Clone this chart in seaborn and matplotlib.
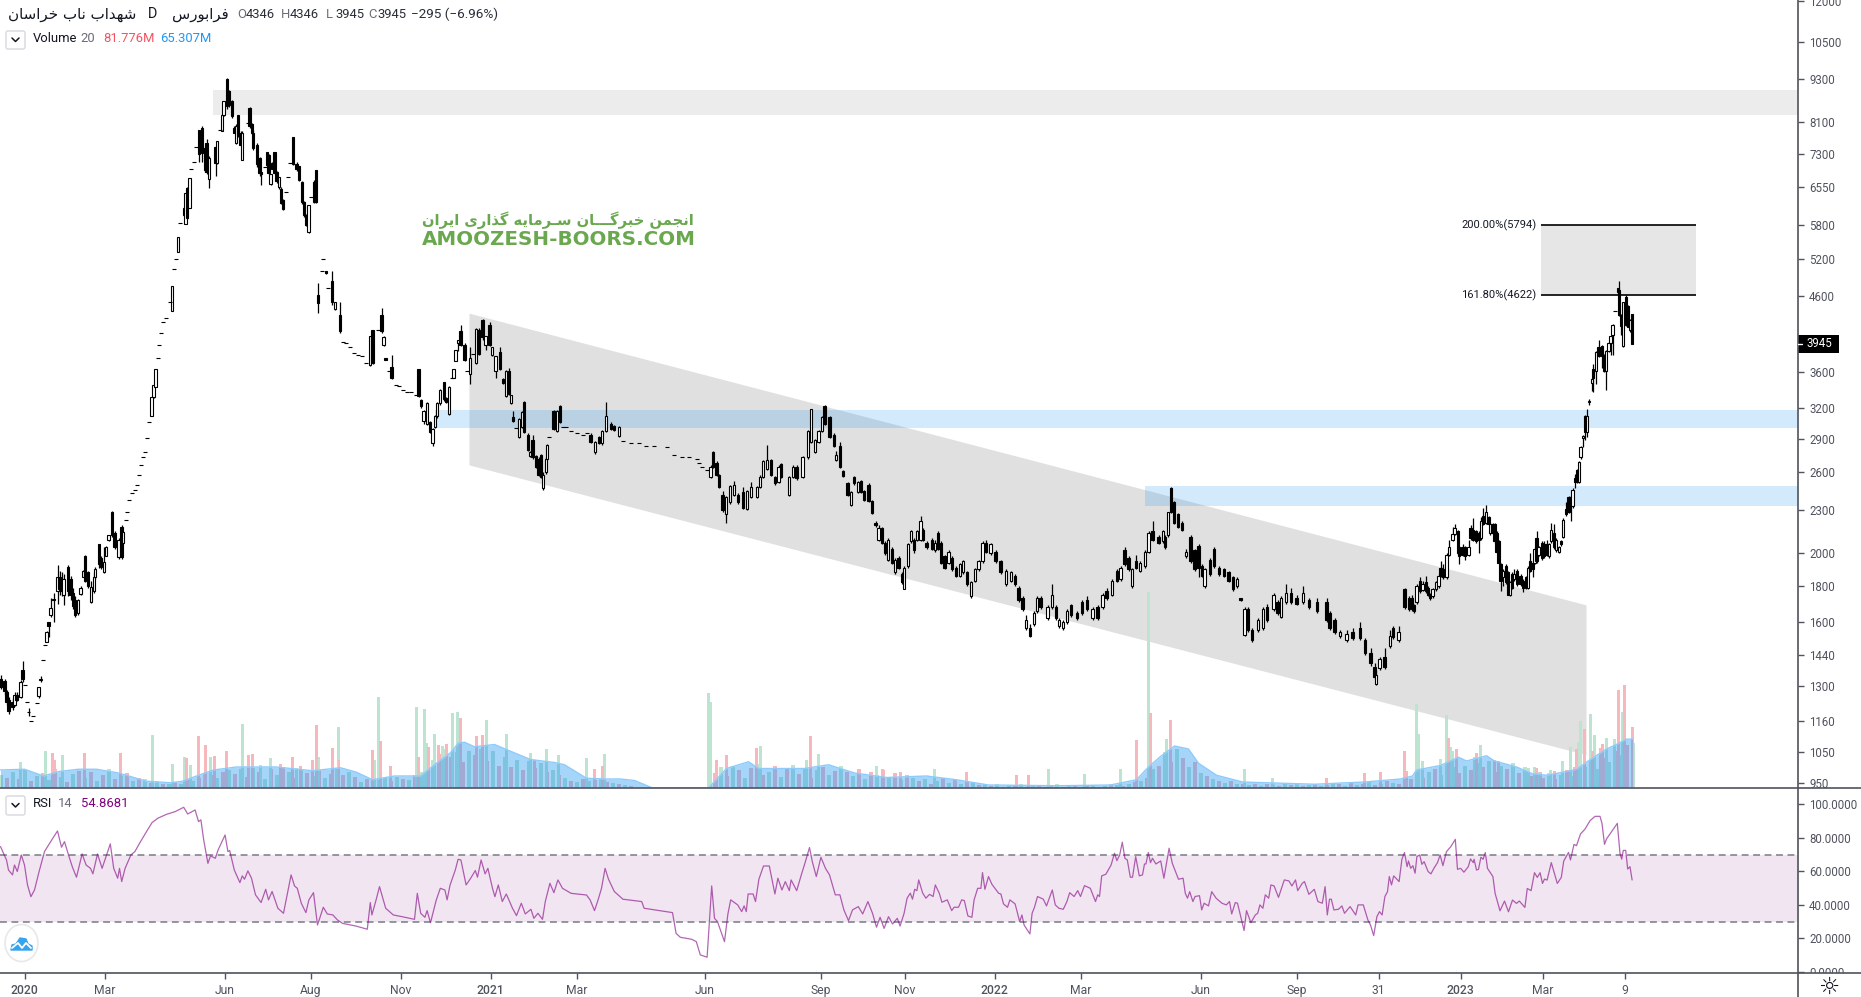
import matplotlib
matplotlib.use("Agg")
import matplotlib.pyplot as plt
from matplotlib.patches import Rectangle, Ellipse, FancyBboxPatch, Polygon
from matplotlib.ticker import FixedLocator, FixedFormatter, NullLocator
from matplotlib.transforms import Bbox
import seaborn as sns

# ---------------- candles: (bar, open, high, low, close) ----------------
candles_early = [(-12,1330,1350,1290,1295),(-10,1322,1330,1265,1280),(-9,1275,1285,1225,1235),(-8,1245,1255,1190,1200),
(-6,1235,1250,1205,1215),(-5,1225,1275,1220,1265),(-4,1265,1275,1240,1245),(-2,1255,1325,1250,1318),(-1,1370,1410,1318,1330),
(2,1195,1210,1180,1195),(7,1260,1298,1250,1298),(8,1325,1345,1318,1330),(11,1500,1555,1500,1550),(12,1600,1600,1525,1580),
(13,1640,1730,1630,1675),(14.5,1725,1760,1600,1720),(16.5,1770,1925,1700,1850),(17.5,1850,1890,1750,1780),(18.5,1840,1880,1740,1770),
(19.5,1750,1870,1690,1840),(21.75,1915,1925,1740,1770),(23,1840,1860,1720,1750),(24.3,1760,1790,1670,1685),(25.3,1720,1740,1630,1640),
(26.7,1650,1725,1640,1720),(28,1755,1800,1750,1790),(29.3,1855,1895,1850,1890),(30.3,1980,1990,1820,1830),(31.7,1880,1890,1790,1800),
(33.4,1710,1830,1705,1795),(34.6,1770,1880,1760,1850),(35.4,1850,1915,1840,1900),(37.2,2060,2060,1905,1930),(38.4,1970,1985,1900,1915),
(39.8,1880,2040,1875,1945),(40.7,1985,2050,1980,2040),(42,2090,2125,2085,2125),(43.9,2285,2295,2110,2125),(45,2140,2150,2030,2040),
(47,1975,2100,1965,2090),(48.5,2180,2190,1965,1975),(49.4,2070,2150,2065,2145)]
candles_peak = [(63.5,3120,3320,3120,3320),(64.5,3320,3450,3310,3450),(65.5,3430,3630,3430,3630),(73.8,4390,4750,4390,4750),
(76.9,5310,5580,5310,5580),(79.6,6130,6140,5960,5980),(80.5,5820,6440,5820,6440),(81.1,6540,6560,5910,5930),(82.5,6120,6760,6120,6760),
(87.3,7880,7900,7100,7290),(88.8,7950,7980,7100,7330),(90.1,7430,7500,6880,6920),(91,7550,7650,6850,6880),(92.2,6740,7250,6530,7210),
(95.5,7470,7480,6790,7090),(96.2,7090,7620,7070,7620),(98.9,7860,8270,7860,8270),(99.5,8270,8670,8250,8670),(101.4,9300,9350,8450,8520),
(102.2,8960,8990,8500,8540),(103.9,8670,8700,8200,8250),(104.9,7950,8000,7800,7820),(105.8,7550,8030,7530,8000),(106.8,8270,8280,7700,7750),
(108,7800,7850,7500,7520),(108.9,7160,7850,7160,7800),(112.5,8480,8490,7950,7980),(113.7,8030,8080,7780,7800),(114.4,7800,7900,7400,7430),
(116.3,7520,7550,7000,7060),(117.5,7210,7230,6800,6860),(118.4,6880,6880,6600,6830),(121.1,7340,7350,7000,7050),(122,7280,7300,6830,6860),
(123,6620,6850,6610,6830),(123.6,7090,7100,6940,6960),(125,7340,7350,6840,6860),(126,6880,6900,6650,6680),(127.4,6550,6780,6520,6780),
(128.4,6510,6550,6200,6230),(129.4,6280,6300,6080,6100),(134.1,7700,7700,7040,7060),(136,7060,7100,6900,6950),(137.4,7010,7020,6680,6700),
(138.7,6660,6680,6200,6240),(139.9,6240,6260,5950,5980),(140.8,5980,6000,5770,5790),(142,5670,6190,5650,6180),(144.7,6660,6700,6220,6240),
(145.6,6920,6930,6220,6240),(146.8,4620,4800,4360,4500),(150.8,5000,5000,4950,4970),(153.8,4830,4990,4480,4520),(155.2,4410,4520,4400,4520),
(157.8,4330,4510,4090,4110)]
candles_late2020 = [(172.6,3680,4040,3670,4040),(174,4120,4130,3700,3710),(178.5,4330,4430,4090,4110),(179.5,3930,4040,3920,4030),
(180.5,3770,3770,3740,3745),(183.5,3660,3810,3520,3530),(197,3640,3640,3320,3330),(198.3,3290,3300,3200,3220),(199.5,3070,3180,3040,3170),
(201.3,3040,3270,3030,3260),(202.9,3060,3070,2950,2960),(204,2860,3000,2830,2990),(205.2,3010,3130,3000,3120),(206.2,3120,3270,3100,3260),
(207.6,3260,3410,3240,3400),(209.6,3480,3490,3280,3300),(210.8,3310,3320,3260,3270),(212.3,3140,3440,3130,3430),(214.5,3530,3640,3530,3640),
(215.5,3730,3860,3730,3860),(216.7,3960,3990,3850,3990),(218,4110,4190,3920,3930),(220,3930,3950,3730,3740),(222.6,3580,3900,3460,3770),
(225.6,3710,4150,3700,4140),(227,4130,4150,3800,3820),(229,4260,4270,4000,4030),(230.5,3930,4040,3870,4040)]
candles_2021a = [(232.5,4190,4230,3920,3930),(233.9,3800,3900,3790,3900),(235.5,3610,3790,3530,3790),(237.8,3840,3900,3620,3630),
(239.2,3520,3530,3460,3470),(240.8,3330,3620,3320,3610),(242.2,3610,3650,3340,3350),(243.4,3260,3340,3250,3340),(244.4,3110,3170,3060,3070),
(247.3,2920,3100,2910,3090),(248.7,3010,3170,3000,3160),(249.9,3270,3280,2950,2960),(251.7,2940,2950,2790,2800),(252.7,2740,2790,2730,2780),
(254,2890,2940,2720,2730),(255.6,2740,2750,2640,2650),(257,2720,2730,2570,2580),(258.2,2750,2760,2550,2560),(259.4,2470,2600,2460,2580),
(260.6,2600,2730,2590,2720),(261.4,2720,2850,2720,2840),(264.5,3170,3180,2980,2990),(266.1,2970,3180,2960,3170),(267.9,3220,3230,3050,3060),
(283,2940,2950,2860,2870),(285.3,2780,2880,2760,2870),(287.3,2920,2930,2850,2860),(288.7,2860,2980,2840,2970),(290.8,2970,3270,2960,3120),
(293.2,3040,3060,2980,2990),(294.8,3020,3030,2970,2980),(297.2,2930,3020,2920,3010)]
candles_2021b = [(343,2560,2660,2550,2650),(344.4,2780,2790,2640,2650),(346,2680,2700,2570,2580),(347.4,2580,2590,2470,2480),(349,2420,2450,2290,2300),
(350.8,2270,2410,2210,2400),(352.8,2360,2500,2350,2490),(354.8,2420,2530,2410,2500),(356.6,2420,2430,2350,2360),(359.2,2440,2480,2310,2320),
(361.2,2310,2460,2300,2450),(363.3,2400,2520,2390,2480),(366.3,2400,2490,2390,2480),(367.6,2480,2580,2470,2560),(369.4,2560,2710,2550,2700),
(371.4,2630,2840,2620,2710),(373.2,2710,2720,2570,2580),(375.3,2560,2570,2500,2510),(377,2520,2660,2510,2650),(378.3,2670,2680,2550,2560),
(382.1,2420,2570,2410,2560),(384.2,2560,2660,2550,2650),(386,2650,2660,2540,2550),(389,2560,2740,2550,2730),(391.6,2730,2980,2720,2970),
(393.4,2870,3190,2860,3190),(395.4,2780,2900,2770,2890),(397,2870,2980,2860,2970),(398.7,2970,3120,2960,3110),(400,3220,3240,3030,3040),
(402.5,3110,3120,2910,2920),(404.6,2940,2950,2820,2830),(405.9,2710,2790,2700,2750),(407.7,2830,2870,2640,2650),(409.4,2610,2620,2560,2570),
(411.5,2510,2520,2410,2420),(413.3,2340,2450,2330,2440),(414.8,2560,2570,2500,2510),(416.6,2440,2530,2430,2520),(418.1,2530,2540,2430,2440),
(419.9,2450,2460,2370,2380),(422,2500,2510,2360,2370),(423.7,2370,2380,2270,2280),(425.5,2210,2220,2180,2190),(427,2090,2190,2080,2170),
(428.6,2170,2180,2060,2070),(430.1,2070,2080,1990,2000),(431.9,1960,2100,1950,2090),(433.7,2030,2040,1930,1940),(435.2,1880,1970,1870,1960),
(437,1970,1980,1900,1910),(438.8,1870,1880,1810,1820),(439.8,1780,1920,1780,1910),(441.6,1920,2070,1910,2060),(443.4,2080,2160,2070,2150),
(444.6,2090,2100,2000,2020),(446.2,2090,2160,2080,2150),(448,2090,2260,2080,2220),(449.2,2160,2170,2080,2090),(451,2070,2080,2030,2040),
(453.6,2090,2100,2020,2030),(455.4,2020,2090,2010,2070),(456.6,2140,2150,2020,2030),(458.2,2070,2080,1930,1940),(460,1980,1990,1900,1910),
(462,1940,2020,1930,2010),(463.8,1970,1980,1890,1900),(465.6,1910,1920,1850,1860),(467.6,1860,1940,1850,1930),(469.4,1880,1960,1870,1950),
(471.4,1880,1890,1800,1810),(473.2,1740,1830,1730,1820),(475.2,1830,1910,1820,1900),(477,1900,1960,1890,1950),(479,1950,2080,1940,2070),
(480.9,2070,2090,2000,2010),(483,2000,2070,1990,2060)]
candles_2022a = [(485.5,2010,2020,1940,1950),(488,1950,1960,1870,1880),(490.6,1810,1900,1800,1890),(493.1,1830,1890,1820,1880),(495.1,1860,1870,1800,1810),
(497,1790,1800,1710,1720),(499,1730,1740,1660,1670),(500.8,1570,1640,1560,1610),(502.8,1570,1590,1525,1530),(504.6,1590,1660,1580,1650),
(506.4,1660,1740,1650,1730),(508,1730,1740,1670,1680),(511.5,1620,1690,1610,1680),(513.8,1680,1810,1670,1750),(515.6,1680,1690,1610,1620),
(517.4,1580,1620,1570,1610),(519.4,1570,1610,1560,1600),(521.2,1600,1670,1590,1660),(523.2,1690,1700,1630,1640),(526.3,1650,1660,1610,1620),
(528.8,1710,1720,1640,1650),(531.4,1720,1740,1660,1670),(534,1620,1680,1610,1670),(536.5,1680,1690,1610,1620),(539,1680,1760,1670,1750),
(541,1770,1790,1720,1730),(543.6,1750,1840,1740,1830),(546.2,1890,1900,1820,1830),(548,1840,1920,1830,1910),(550,2020,2040,1920,1930),
(552,1970,1980,1890,1900),(553.8,1800,1910,1790,1900),(555.6,1950,1990,1900,1910),(557.7,1890,1950,1880,1940),(560.2,1920,2020,1910,2010),
(562,2010,2150,2000,2140),(564,2150,2220,2080,2090),(567,2110,2120,2060,2070),(569.1,2080,2160,2070,2150),(570.4,2110,2120,2030,2040),
(571.7,2120,2290,2110,2290),(573.2,2470,2480,2280,2290),(574.7,2360,2370,2200,2210),(576.8,2270,2280,2170,2180),(578.8,2210,2220,2150,2160),
(580.9,1980,2030,1970,2010),(583,2110,2120,1940,1950),(585,2020,2030,1890,1900),(587,2050,2060,1850,1910),(588.8,1920,1930,1850,1860),
(590,1800,1910,1790,1900),(592.6,1960,1970,1860,1870),(594.6,2030,2040,1910,1920),(597.2,1910,1920,1860,1870),(599.7,1900,1910,1850,1860),
(602,1880,1890,1820,1830),(604.1,1850,1860,1770,1780),(606.1,1800,1850,1790,1840),(608,1730,1730,1715,1720)]
candles_2022b = [(610,1535,1680,1530,1670),(611.7,1670,1680,1550,1560),(613.8,1560,1570,1500,1510),(616.8,1560,1620,1550,1610),(619.4,1570,1680,1560,1670),
(621.4,1680,1700,1600,1610),(624.5,1670,1760,1660,1750),(626.5,1710,1720,1640,1650),(628.3,1630,1740,1620,1730),(630.9,1710,1810,1700,1760),
(633.4,1760,1790,1700,1710),(636,1730,1750,1690,1700),(639.3,1710,1800,1700,1760),(642.3,1720,1730,1670,1680),(646.2,1710,1730,1650,1660),
(651,1710,1730,1600,1610),(652.5,1650,1660,1560,1570),(655,1610,1620,1540,1550),(657.7,1530,1560,1520,1550),(661,1510,1560,1500,1540),
(664,1550,1570,1510,1520),(667.9,1570,1600,1510,1520),(670.4,1510,1520,1440,1450),(673,1450,1470,1390,1400),(675,1385,1400,1330,1340),
(675.8,1310,1370,1305,1350),(677.5,1380,1430,1370,1420),(680,1430,1470,1375,1385),(682.6,1480,1560,1470,1530),(684.4,1570,1580,1515,1525),
(687,1510,1580,1500,1550),(690,1780,1790,1670,1680),(692.2,1730,1740,1660,1670),(693.6,1730,1750,1660,1670),(694.8,1690,1700,1650,1660),
(696,1710,1810,1700,1800),(697.8,1830,1850,1760,1770),(699,1775,1830,1770,1810),(700.6,1820,1860,1760,1770),(701.6,1790,1800,1740,1750),
(702.8,1750,1760,1720,1730),(704,1740,1790,1730,1780),(705.6,1780,1830,1770,1820),(707,1800,1870,1790,1860),(708,1910,1950,1850,1860),
(709.4,1900,1930,1840,1850),(711,1850,2000,1840,1990),(712.4,1990,2090,1980,2040),(714,2090,2180,2080,2130),(715,2130,2200,2120,2170),
(716.6,2150,2160,1990,2000)]
candles_2023 = [(717.4,2040,2050,1930,1980),(719,2040,2060,1980,1990),(720.2,2040,2050,1955,1980),(722,1990,2090,1980,2040),(723,2170,2190,2090,2100),
(724.4,2160,2240,2080,2090),(725.8,2150,2160,2070,2080),(727,2140,2150,2000,2090),(728.1,2100,2250,2090,2220),(729.4,2260,2320,2190,2200),
(730.6,2210,2340,2200,2290),(732,2250,2260,2190,2200),(732.8,2140,2210,2120,2200),(734,2200,2210,2130,2140),(735,2200,2210,2070,2080),
(736,2140,2150,2000,2010),(737,2080,2090,1930,1940),(738,1930,1940,1770,1830),(739.4,1850,1900,1800,1890),(740.6,1920,1930,1810,1820),
(741.8,1880,1890,1750,1750),(742.8,1750,1830,1740,1820),(743.8,1870,1880,1780,1790),(744.8,1840,1900,1830,1870),(746.4,1890,1900,1800,1810),
(748,1860,1870,1800,1810),(749.4,1830,1840,1765,1790),(750.8,1850,1860,1780,1790),(751.6,1790,1920,1780,1910),(752.8,1950,2000,1880,1890),
(754,1940,1950,1850,1900),(755,1940,2040,1930,2030),(756,2100,2150,1940,1950),(757,1990,2050,1980,2040),(758.6,2070,2080,1960,1970),
(759.8,2060,2080,1970,1980),(761,2060,2090,1980,1990),(762.4,1980,2070,1970,2060),(763.4,2080,2210,2070,2160),(764.8,2140,2200,2030,2040),
(765.8,2020,2100,2010,2090),(767.3,2010,2050,2000,2040),(768.4,2080,2090,2050,2060),(769.4,2110,2240,2100,2230),(770.6,2310,2360,2260,2270),
(772,2400,2410,2280,2290),(773,2400,2410,2220,2330),(774,2330,2470,2320,2460),(775.3,2550,2590,2470,2520),(776.3,2620,2630,2510,2520),
(777.3,2520,2700,2510,2690),(778,2730,2830,2720,2820),(779.4,2910,2940,2820,2930),(780.4,3120,3130,2890,2960),(781.4,2960,3190,2920,3120),
(782.4,3270,3300,3230,3280),(783.6,3470,3530,3390,3520),(784.4,3630,3690,3370,3530),(785.6,3610,3850,3460,3840),(787,3910,4000,3780,3790),
(788.7,3920,3930,3650,3790),(789.8,3810,3820,3600,3610),(790.8,3610,3860,3400,3850),(792,3850,3970,3840,3960),(793,3960,4050,3810,4040),
(794,4060,4200,3810,4190),(796.6,4720,4730,4650,4660),(797.4,4700,4830,4320,4330),(798.4,4330,4340,4060,4180),(799.4,3920,4520,3910,4510),
(800.6,4590,4620,4180,4190),(801.6,4460,4470,4160,4170),(802.7,4120,4270,4100,4260),(803.8,4346,4346,3945,3945)]

# limit-move days printed as a single dash: (bar, price)
flat_days = [(0.4,1305),(1.4,1235),(3.4,1160),(4.4,1180),(6,1230),(9,1415),(10,1485),(50.6,2225),(51.4,2290),(52.4,2380),(53.6,2435),(55,2460),
(56,2500),(57,2575),(58,2660),(59,2735),(60,2780),(61,2910),(62,3060),(66.5,3770),(67.4,3930),(68.4,4090),(69.4,4230),(70.8,4290),(72.5,4520),
(74.8,5030),(75.8,5190),(77.9,5840),(83.4,6960),(84.6,7120),(85.7,7470),(97.8,7880),(111.5,8060),(120,7000),(130.5,6450),(131.6,6770),(132.6,7090),
(143.1,6340),(148.9,5000),(149.4,5190),(151.9,4720),(159.4,3970),(160.7,3950),(162.7,3900),(164.7,3830),(166.7,3800),(168.7,3790),(170.6,3710),
(176.6,4130),(182,3610),(185.5,3450),(187.4,3440),(189.4,3400),(191.4,3370),(193.4,3370),(195.7,3340),(213.7,3530),(221.4,3610),(224,3820),
(245.8,3000),(262.2,2920),(269.3,3010),(270.5,3010),(273.4,2970),(276.4,2950),(279.4,2940),(281.3,2950),(299.2,2880),(303,2860),(307,2860),
(310.7,2830),(314.5,2830),(321,2820),(324.7,2750),(328.6,2730),(332.4,2730),(336.2,2720),(337,2680),(338.8,2650),(341.3,2620),(795.25,4390)]

# ---------------- volume (millions) ----------------
vol_up_peaks = [(-2,35),(10.5,49),(19,44),(64,71),(74,32),(80,42),(83,31),(93,42),(109,86),(118,31),(123,40),(136,27),(147,42),(157,81),(175,38),(177,122),
(196,108),(200,105),(201,60),(205,72),(209,56),(214,100),(216.5,102),(231,91),(241,72),(253,47),(261,52),(267,44),(281,40),(290,46),(342,127),(343,115),
(368,56),(391,37),(397,46),(426,30),(455,25),(512,26),(530,19),(548,26),(562,261),(571,66),(610,26),(624,14),(696,112),(697,72),(699,36),(708,39),(711,98),
(713,55),(714,50),(725,41),(728,58),(752,27),(755,28),(763,24),(769,36),(773,55),(777,62),(778,89),(783,99),(785,71),(791,67),(795,65),(799,102)]
vol_down_peaks = [(14,47),(15.4,38),(30,47),(48,47),(81,40),(87,70),(90.5,58),(95,43),(101,50),(112,44),(114,46),(128,32),(134,41),(138,30),(144,37),(146,84),
(154,53),(157.4,38),(174,51),(178,63),(183,30),(197,42),(202,55),(207,58),(211,59),(218,93),(226,70),(229,71),(255,38),(285,25),(289,29),(346,37),(351,44),
(366,53),(393,69),(429,26),(438,22),(471,21),(496,18),(502,18),(556,64),(563,100),(573,91),(651,14),(670,20),(678,22),(690,50),(691,23),(712,67),(716,52),
(726,47),(735,38),(737,36),(756,27),(758,21),(765,23),(775,28),(776,52),(780,79),(784,50),(788,53),(789,59),(797,131),(800,138),(804,81.776)]
vol_base_2020 = [18,14,22,12,24,9,16,20,11,26,15,8,19,23,13,21,10,17,25,12,16,20,9,14,12,7,10,6,5,8,6,11,9,14,20,17,13,22,
24,19,26,15,27,21,12,25,18,28,22,14,26,20,16,24,13,19,25,17,22,15,8,12,6,10,14,9,15,12,11,18,22,30,38,45,52,42]
vol_base_2021 = [48,35,50,44,52,36,49,30,42,28,38,24,36,27,33,21,24,18,13,10,8,12,9,11,14,8,7,5,4,3,0,0,0,0,0,0,0,0,0,0,0,0,0,
20,28,16,30,24,14,27,32,18,22,29,15,25,31,19,26,13,24,28,17,23,30,21,16,26,12,22,18,24,14,20,11,17]
vol_base_2022 = [14,9,12,6,10,13,7,11,5,9,8,4,6,3,5,2,4,3,5,2,3,4,2,3,5,2,4,3,2,4,3,2,3,5,4,3,6,8,
10,14,25,30,48,35,52,40,28,35,20,16,12,9,7,10,6,5,4,5,3,6,4,3,5,4,6,3,4,5,3,4,6,5,3,7,4,5,8,4,6,9,7,5,10]
vol_base_2023 = [12,10,14,22,26,18,24,28,20,30,24,33,28,36,22,30,26,34,20,28,16,22,14,20,12,18,24,16,20,28,18,26,40,35,50,44,58,60]

vol_ma = [(-12,24),(0,25),(9.5,16),(17.4,22),(27,25),(36,25),(47,20),(61,9),(73,7),(79,9),(85,15),(94.5,24),(106,28),(126,28),(144,23),(158,27),(166,21),(174,11),
(185,16),(195,16),(198,16),(205,31),(213,47),(217,60),(220,61),(225,55),(235,58),(243,49),(253,38),(265,34),(270,31),(281,13),(290,12),(298,12),(305,10),(314,0),
(342,0),(351,26),(362,35),(367,26),(390,26),(402,31),(415,20),(431,14),(451,16),(466,11),(482,4),(517,3),(543,4),(556,11),(562,28),(568,42),(575,56),(582,52),
(587,33),(596,17),(609,8),(645,5),(670,8),(688,12),(694,16),(696,24),(708,30),(717,41),(721,36),(731,43),(735,36),(746,28),(754,19),(761,17),(771,22),(776,25),
(783,38),(791,52),(796,58),(801,65),(804,65.307)]

# ---------------- RSI ----------------
rsi_2020 = [(-12,74.8),(-9,66.8),(-8,60.8),(-6,57.9),(-5,63.8),(-3.6,59.9),(-1.6,69.8),(0,63.8),(1.5,51.9),(3.2,44.9),(5,48.9),(7.3,59.9),(10,71.8),(13.6,78.7),
(16.5,84.1),(18.5,74.4),(20,77.7),(22,69.8),(24,62.4),(26,56.5),(28.8,70.4),(30.8,63.8),(33,61.8),(34.2,58.5),(36.5,70.4),(38.8,61.8),(42.9,76.4),(44.6,61.8),
(46.6,55.9),(47.5,61.8),(48.6,53.9),(50.3,61.8),(53.2,69.8),(55.2,71.8),(58,77.7),(61,83.7),(63.8,89.1),(66.7,91.7),(71,94),(75.3,95.6),(79.6,98.2),(81.6,94.2),
(85.3,96.6),(87,89.7),(88.2,90.7),(89.6,78.7),(91.7,64.8),(93,69.2),(95.4,67.8),(96.8,72.8),(100.3,81.7),(101.7,71.8),(102.6,72.4),(104.9,60.8),(107.7,53.3),
(108.9,57.3),(110,55.3),(111.7,60.3),(113.5,55.9),(115.5,46),(118.3,41.4),(120.6,49.3),(122,43),(123.8,48),(126.7,38),(129.5,35),(133.3,57.9),(135,51.3),(136.4,49.9),
(138.4,41),(140.7,35.4),(142.2,43),(144.5,47.3),(146.5,28),(149.4,38.6),(151.4,34.6),(154.2,34),(156.5,31),(159,29),(165.7,27.4),(171.4,25.5),(172.9,41.4),(173.7,34),
(175.8,43),(177.5,50.9),(180.6,38),(184.4,34),(188.7,33),(195,31.4),(196.4,46.9),(198.1,35),(200.2,32.6),(201.3,36.6),(203,29.4),(205.9,43),(207.9,49.9),(210.2,48.9),
(211.3,43),(212.8,51.9),(215.4,60.8),(216.8,67.2),(218.2,66.8),(220.8,51.9),(223.1,55.9),(225.4,60.5),(226.5,56.5),(228.3,66.8),(230.3,58.5)]
rsi_2021 = [(231.7,61.8),(234,49.9),(235.2,44.9),(236.9,51.9),(238.9,42),(240.9,46.5),(244,38),(246,33.6),(248.4,41),(250.4,34.6),(253.2,37.4),(254.7,32),(256.7,35),(259,31.4),
(260.4,42),(262.7,52.9),(264.7,47.3),(266.7,54.9),(269,49.9),(273.3,46.9),(281,45.9),(282.8,43),(285,36.6),(286.8,43),(288.5,49.9),(290.3,61.8),(292,55.3),(294.9,48),
(299.2,43.4),(308.6,42),(309.8,38),(324,35.4),(325.8,23),(327.9,20.7),(333.6,19.5),(335.9,18.1),(337.9,10.2),(341.3,8.8),(343.6,51.3),(345,32),(346.5,30),(350,18.1),
(351.7,34.6),(353.1,43),(356.6,40),(358.6,36),(359.8,39.4),(360.9,36),(361.8,46.5),(364.3,46.5),(365.5,42),(367.2,55.3),(369.5,63.2),(372.4,63.2),(375.2,46.5),(376.7,55.9),
(378.7,48.9),(380.4,53.9),(382.4,48.5),(383.3,54.9),(386.1,48.5),(388.4,57.9),(390.2,64.8),(392.5,74.2),(393.9,65.8),(395.9,56.9),(398.2,68.4),(400.5,61.8),(402.5,57.9),
(405.4,46),(407.7,46),(409.7,37),(412,30.6),(414,37),(416.9,39),(419.1,34.6),(421.7,42),(424,35),(426,26.7),(427.8,32.6),(429.8,26),(432,33),(434,28.6),(436.4,32),(437.8,27.4),
(439.8,35),(441.3,44),(442.9,47),(444,43.4),(445.1,49.3),(446.2,48.5),(447.1,54.9),(449.1,47),(450.7,44),(452.5,46.3),(454.3,45),(455.4,51.9),(457.4,46.9),(458.7,41.6),
(461.4,43),(463.6,36.6),(464.8,38.6),(467,38.6),(468.6,43),(469.9,42.6),(471.7,33.4),(473.7,32.6),(474.8,43),(476.6,49.9),(478.2,49.9),(479,59.3),(480.2,49.3),(482,56.9)]
rsi_2022 = [(483.7,52.3),(487.1,46.9),(488.2,46.5),(489.5,40.6),(491.5,38.6),(492.7,43),(495.3,40.6),(497.6,30),(498.7,34),(499.8,28),(502.7,22.7),(503.8,35),(505,38.6),(506.5,45),
(509.4,43.4),(511,39.4),(513.9,48.9),(515.4,40),(517.2,38),(519.4,37.4),(521.2,42),(522.6,47.3),(524.8,45),(526.6,48.5),(528,45),(530,51.5),(532.9,49.9),(535.5,42),(536.6,46),
(537.5,45),(538.6,57.3),(540.7,58.3),(543.3,63.8),(545,70.8),(546.2,66.4),(547.6,69.8),(548.9,77.4),(550.2,67.8),(551.4,66.8),(552.9,56.5),(554,56.5),(555.6,68.8),(557.4,57.3),
(559,57.9),(560,64.4),(560.7,64.4),(561.9,71.2),(563,65.2),(564,67.8),(565.7,64.4),(568.1,66.2),(569.7,55.9),(572.3,73.8),(573.9,64.8),(577,55.3),(579.3,55.9),(580.4,46.9),
(581.5,44),(582.6,47.9),(584.2,42),(585.3,45),(587.5,45.5),(588.6,37),(589.8,41),(592,39.4),(593.6,47.9),(595.8,44),(598.7,41),(600.9,40),(602.5,42),(603.6,34.6),(605.4,41.4),
(606.5,41),(609.8,24.7),(611,36.6),(613.2,29.4),(615.4,34),(616.6,35),(617.7,40),(619.2,38),(620.4,46),(622.1,44),(623.2,51.9),(624.8,51.3),(627,44.5),(629.9,54.9),(632.2,54.3),
(633.7,51.3),(635.5,54.9),(636.6,48.5),(638.9,52.9),(640,53.9),(642.2,46.3),(644.9,49.3),(646.7,42),(648.9,41),(650.3,50.9),(651.4,34),(652.5,43.4),(653.4,43.4),(654.7,37),
(657,37.4),(658.7,39.4),(660,35),(662.8,39),(665.6,34),(666.8,40),(669.4,40),(671.7,31),(673,28),(674.6,21.7),(676.2,33),(677.5,36),(678.8,34),(680.2,45),(681.5,47.9),(682.4,56.9),
(683.5,51.9),(684.6,57.3),(687.3,53.9),(688.7,67.2),(690,71.2),(691.3,62.8),(692,66.2),(693.1,61.8),(694.2,63.4),(695.3,58.9),(696.2,68.8),(697.6,69.8),(698.7,64.2),(699.8,65.8),
(701.8,59.9),(703.2,58.5),(704.7,61.8),(706.5,65.2),(707.8,69.8),(709.2,63.4),(711,71.8),(713.2,74.8),(715.4,79.1)]
rsi_2023 = [(716.5,61.2),(718.1,61.8),(719.7,59.5),(721.9,62.8),(723,67.4),(724.4,65.2),(724.8,67.2),(726,60.8),(727,61.2),(728.2,68.4),(729.3,67.2),(730.4,71.2),(731.5,61.8),
(734.2,56.9),(735.3,46.9),(737.75,36.5),(740,42.3),(742,35.9),(744,42.9),(746,40.9),(747.4,42.3),(750.2,38.5),(751.4,49.8),(753.3,48.5),(755,59.2),(756.4,56.4),(757.8,59.2),
(759,52.8),(760,55.4),(761.3,54.8),(763.4,65.2),(766.4,52.8),(768.4,56.4),(769.6,66.1),(772,71.3),(773,66.8),(774.75,76.1),(776,75.3),(778,82.3),(780.25,85.2),(782.75,90.2),
(785.25,92.8),(787.75,92.8),(788.75,88.6),(790,76.1),(791,79.3),(796.4,88.6),(797.75,70.7),(798.6,67.3),(799.4,72.5),(800.6,72.5),(801.6,61.4),(802.75,62.8),(803.8,54.87)]

# ---------------- axes labels ----------------
price_ticks = [12000,10500,9300,8100,7300,6550,5800,5200,4600,3600,3200,2900,2600,2300,2000,1800,1600,1440,1300,1160,1050,950]
rsi_ticks = [100,80,60,40,20,0]
time_tick_bars = [0,40,100,143,188,233,276,340,398,440,485,528,588,636,677,718,759,800]
time_tick_labels = ['2020','Mar','Jun','Aug','Nov','2021','Mar','Jun','Sep','Nov','2022','Mar','Jun','Sep','31','2023','Mar','9']
fib_levels = [('200.00%(5794)',5794),('161.80%(4622)',4622)]

W, H = 1861, 997
TXT = '#50535e'
TICK = 8.3
sns.set_theme(style='white', rc={'axes.grid': False})
plt.rcParams['font.family'] = ['Roboto', 'DejaVu Sans']

fig = plt.figure(figsize=(W/100, H/100), dpi=100, facecolor='white')
def rect(l, t, r, b):
    return [l/W, 1-b/H, (r-l)/W, (b-t)/H]

XLIM = (-12.25, 886.75)
PLIM = (935, 12020)
ax_back = fig.add_axes(rect(0,0,1798,788), zorder=1)
vax = fig.add_axes(rect(0,0,1798,788), zorder=2)
ax = fig.add_axes(rect(0,0,1798,788), zorder=3)
rax = fig.add_axes(rect(0,788,1798,973), zorder=3)
for a in (ax_back, ax):
    a.set_yscale('log'); a.set_ylim(*PLIM)
for a in (ax_back, vax, ax, rax):
    a.set_xlim(*XLIM)
    for s in a.spines.values():
        s.set_visible(False)
vax.patch.set_visible(False); ax.patch.set_visible(False)
for a in (ax_back, vax):
    a.xaxis.set_major_locator(NullLocator()); a.yaxis.set_major_locator(NullLocator()); a.yaxis.set_minor_locator(NullLocator())

# background drawings
BLUE = '#2196f3'
ax_back.add_patch(Rectangle((94, 8270), 900, 8990-8270, fc='#ececec', ec='none', zorder=1))
ax_back.fill([222.5, 781, 781, 222.5], [4350, 1690, 1040, 2660], fc='#e0e0e0', ec='none', zorder=2)
ax_back.add_patch(Rectangle((205, 3000), 800, 180, fc=BLUE, alpha=.2, ec='none', zorder=3))
ax_back.add_patch(Rectangle((560, 2330), 400, 155, fc=BLUE, alpha=.2, ec='none', zorder=3))
ax_back.add_patch(Rectangle((758.25, 4622), 77.5, 5794-4622, fc='#e6e6e6', ec='none', zorder=3))

# volume
vax.set_ylim(0, 788/0.75)
RED_V, GREEN_V = '#f7b8bd', '#bde3d1'
base_vals = vol_base_2020 + vol_base_2021 + vol_base_2022 + vol_base_2023
base_bars = list(range(-12, -12+3*len(base_vals), 3))
for k, (b, v) in enumerate(zip(base_bars, base_vals)):
    vax.bar(b, v, width=2.0, color=RED_V if k % 2 else GREEN_V, lw=0, zorder=1)
vax.bar([p[0] for p in vol_up_peaks], [p[1] for p in vol_up_peaks], width=1.1, color=GREEN_V, lw=0, zorder=1)
vax.bar([p[0] for p in vol_down_peaks], [p[1] for p in vol_down_peaks], width=1.1, color=RED_V, lw=0, zorder=1)
ma_x = [p[0] for p in vol_ma]; ma_y = [p[1] for p in vol_ma]
vax.fill_between(ma_x, 0, ma_y, color=BLUE, alpha=.4, lw=0, zorder=2)
sns.lineplot(x=ma_x, y=ma_y, ax=vax, color='#8ecbfa', lw=1, estimator=None, sort=False, errorbar=None, zorder=3)
vax.set_xlim(*XLIM); vax.set_ylim(0, 788/0.75)

# candles
all_candles = candles_early+candles_peak+candles_late2020+candles_2021a+candles_2021b+candles_2022a+candles_2022b+candles_2023
ax.vlines([c[0] for c in all_candles], [c[3] for c in all_candles], [c[2] for c in all_candles], color='black', lw=0.9, zorder=4)
for b, o, h, l, c in all_candles:
    up = c >= o
    ax.bar(b, abs(c-o), bottom=min(o, c), width=1.15, facecolor='white' if up else 'black', edgecolor='black', lw=0.8, zorder=5)
sns.scatterplot(x=[d[0] for d in flat_days], y=[d[1] for d in flat_days], ax=ax, marker='_', color='black', s=6, linewidth=0.8, zorder=5)

# fib levels
for lab, lev in fib_levels:
    ax.hlines(lev, 758.25, 835.75, color='black', lw=1.2, zorder=3)
    ax.text(756, lev, lab, ha='right', va='center', fontsize=8.0, color='#131722', zorder=6)

ax.set_xlim(*XLIM); ax.set_ylim(*PLIM)
ax.yaxis.tick_right()
ax.xaxis.set_major_locator(NullLocator())
ax.yaxis.set_minor_locator(NullLocator())
ax.yaxis.set_major_locator(FixedLocator(price_ticks))
ax.yaxis.set_major_formatter(FixedFormatter([str(t) for t in price_ticks]))
ax.tick_params(axis='y', which='major', length=4, width=1, color=TXT, labelcolor=TXT, labelsize=TICK, pad=4, right=True, left=False)
fig.canvas.draw()
for t in ax.yaxis.get_major_ticks():
    t.label2.set_clip_on(True)
    t.label2.set_clip_box(Bbox.from_extents(1798, H-788, W, H))

# RSI
rax.set_ylim(-0.6, 109.7)
rax.axhspan(30, 70, fc='#800080', alpha=.1, lw=0, zorder=1)
for lev in (30, 70):
    rax.axhline(lev, color='#787b86', lw=1.1, dashes=(4.5, 3), zorder=2)
rsi_pts = rsi_2020+rsi_2021+rsi_2022+rsi_2023
sns.lineplot(x=[p[0] for p in rsi_pts], y=[p[1] for p in rsi_pts], ax=rax, color='#800080', alpha=.6, lw=0.9,
             estimator=None, sort=False, errorbar=None, zorder=3)
rax.set_xlim(*XLIM); rax.set_ylim(-0.6, 109.7)
rax.yaxis.tick_right()
rax.set_yticks(rsi_ticks)
rax.set_yticklabels([f'{t:.4f}' for t in rsi_ticks])
rax.tick_params(axis='y', length=4, width=1, color=TXT, labelcolor=TXT, labelsize=TICK, pad=4, right=True, left=False)
rax.set_xticks(time_tick_bars)
rax.set_xticklabels(time_tick_labels)
rax.tick_params(axis='x', length=4, width=1, color=TXT, labelcolor=TXT, labelsize=TICK+0.4, pad=4, bottom=True)
for t, lab in zip(rax.xaxis.get_major_ticks(), time_tick_labels):
    if lab in ('2020', '2021', '2022', '2023'):
        t.label1.set_fontweight('medium')
for t in rax.yaxis.get_major_ticks():
    t.label2.set_clip_on(True)
    t.label2.set_clip_box(Bbox.from_extents(1798, H-973, W, H-788))

# overlay in pixel coordinates
ov = fig.add_axes([0, 0, 1, 1], zorder=10)
ov.set_xlim(0, W); ov.set_ylim(H, 0); ov.axis('off'); ov.patch.set_visible(False)
ov.plot([0, W], [788, 788], color=TXT, lw=1.2, solid_capstyle='butt')
ov.plot([0, W], [973, 973], color=TXT, lw=1.2, solid_capstyle='butt')
ov.plot([1798, 1798], [0, H], color=TXT, lw=1.2, solid_capstyle='butt')

# last price tag, placed from the price scale
last_y = H - ax.transData.transform((0, 3945))[1]
ov.add_patch(Rectangle((1798, last_y-9), 41, 18, fc='black', ec='none'))
ov.plot([1798, 1802], [last_y, last_y], color='white', lw=1)
ov.text(1819.5, last_y, '3945', color='white', fontsize=TICK, ha='center', va='center')

# Persian text: matplotlib does no shaping, so contextual forms are chosen here
FORMS = {'ا':'\ufe8d\ufe8e','د':'\ufea9\ufeaa','ذ':'\ufeab\ufeac','ر':'\ufead\ufeae','و':'\ufeed\ufeee',
         'ب':'\ufe8f\ufe90\ufe91\ufe92','ج':'\ufe9d\ufe9e\ufe9f\ufea0','خ':'\ufea5\ufea6\ufea7\ufea8','س':'\ufeb1\ufeb2\ufeb3\ufeb4',
         'ش':'\ufeb5\ufeb6\ufeb7\ufeb8','ف':'\ufed1\ufed2\ufed3\ufed4','م':'\ufee1\ufee2\ufee3\ufee4','ن':'\ufee5\ufee6\ufee7\ufee8',
         'ه':'\ufee9\ufeea\ufeeb\ufeec','ی':'\ufbfc\ufbfd\ufbfe\ufbff','گ':'\ufb92\ufb93\ufb94\ufb95'}
def shape(s):
    out = []
    for k, ch in enumerate(s):
        if ch not in FORMS:
            out.append(ch); continue
        prev = s[k-1] if k else ' '
        nxt = s[k+1] if k+1 < len(s) else ' '
        jp = prev == 'ـ' or (prev in FORMS and len(FORMS[prev]) == 4)
        jn = nxt == 'ـ' or nxt in FORMS
        f = FORMS[ch]
        if len(f) == 2:
            out.append(f[1] if jp else f[0])
        else:
            out.append(f[3] if jp and jn else f[2] if jn else f[1] if jp else f[0])
    return ''.join(reversed(out))

def T(x, y, s, color='#131722', size=9.4, **kw):
    kw.setdefault('va', 'center')
    ov.text(x, y, s, color=color, fontsize=size, **kw)

AR = ['DejaVu Sans']
T(8, 14, shape('شهداب ناب خراسان'), size=10.9, family=AR)
T(148, 14, 'D', size=10.4)
T(172, 14, shape('فرابورس'), size=10.7, family=AR)
GR = '#6a6d78'
for x, lab, val in [(237,'O','4346'),(281,'H','4346'),(326,'L','3945'),(368,'C','3945')]:
    T(x, 14, lab, color=GR, size=9.4)
    T(x+9, 14, val, color='#2a2e39', size=9.4)
T(411, 14, '−295 (−6.96%)', color='#2a2e39', size=9.7)

def button(y0, y1):
    ov.add_patch(FancyBboxPatch((6, y0+1), 19, y1-y0-2, boxstyle='round,pad=0,rounding_size=2', fc='white', ec='#d6d8e0', lw=1))
    ym = (y0+y1)/2
    ov.plot([12, 15.5, 19], [ym-2, ym+1.5, ym-2], color='#131722', lw=1.1)
button(30, 50)
T(33, 38.7, 'Volume')
T(80, 38.7, '20', color=GR)
T(103, 38.7, '81.776M', color='#f7525f')
T(160, 38.7, '65.307M', color=BLUE)
button(795, 816)
T(33, 803, 'RSI')
T(58, 803, '14', color=GR)
T(81, 803, '54.8681', color='#800080')

# watermark
T(422, 220, shape('انجمن خبرگـــان سـرمایه گذاری ایران'), color='#6aa84f', size=10.6, family=AR, fontweight='bold')
T(422, 239, 'AMOOZESH-BOORS.COM', color='#6aa84f', size=14.3, family=AR, fontweight='bold')

# logo
ov.add_patch(Ellipse((21.5, 943), 33, 37, fc='white', ec='#e8e8ea', lw=1.2))
ov.add_patch(Polygon([(11,950),(12,945),(16,944),(20,938),(26,939),(28,944),(32,946),(32,950)], closed=True, fc='#35a4ef', ec='#35a4ef', lw=1, joinstyle='round'))
ov.plot([12,18,22,26,31], [948,943,948,943,948], color='white', lw=1.3)

# settings
T(1829, 987, '☼', color='#131722', size=17, ha='center', family=['DejaVu Sans'])

fig.savefig('out.png', dpi=100, facecolor='white')
